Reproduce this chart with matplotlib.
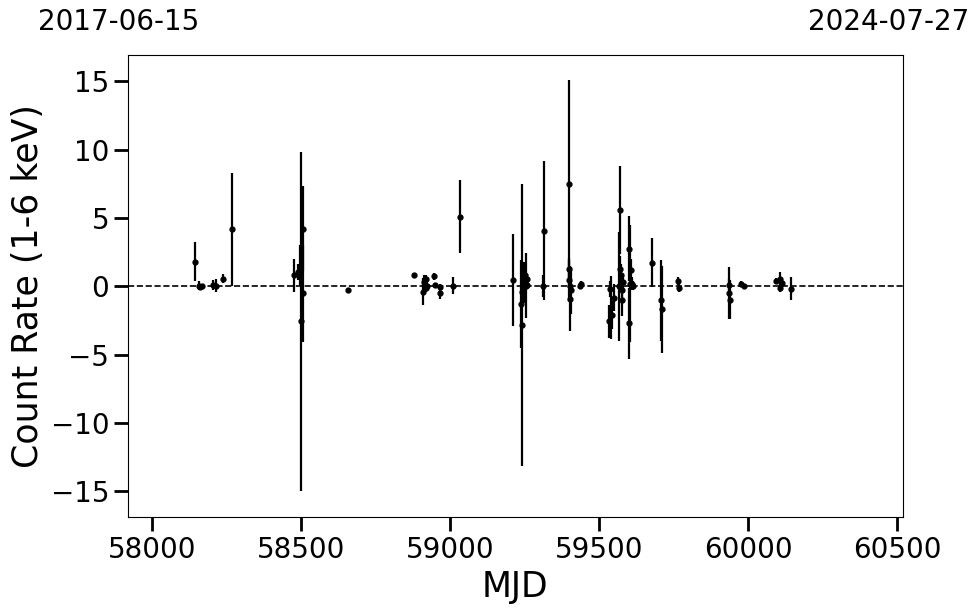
import numpy as np
import matplotlib
matplotlib.use('Agg')
import matplotlib.pyplot as plt

# MJD of each observation, count rate and 1-sigma error
mjd = [58144, 58158, 58162, 58167, 58205, 58215, 58239, 58268,
       58477, 58491, 58495, 58499, 58506, 58507,
       58657, 58878, 58909, 58912, 58915, 58918, 58920, 58922,
       58947, 58949, 58965, 58967, 59011, 59032,
       59212, 59239, 59240, 59242, 59246, 59250, 59252, 59254, 59256, 59258,
       59312, 59315, 59398, 59399, 59400, 59401, 59403, 59405, 59436, 59440,
       59533, 59536, 59541, 59544, 59549, 59566, 59568, 59570, 59573, 59575,
       59577, 59580, 59599, 59601, 59604, 59608, 59610, 59612,
       59678, 59707, 59712, 59765, 59767, 59934, 59936, 59938,
       59976, 59985, 60092, 60105, 60108, 60113, 60143]
rate = [1.8, 0.05, -0.05, 0.0, 0.1, 0.05, 0.56, 4.15,
        0.8, 1.05, 1.5, -2.56, -0.53, 4.2,
        -0.3, 0.8, -0.4, 0.3, 0.1, -0.1, 0.5, 0.0,
        0.73, 0.07, -0.05, -0.5, 0.05, 5.1,
        0.45, -1.3, -0.4, -2.85, 0.3, 0.8, 0.27, 0.05, 0.5, 0.1,
        0.0, 4.07, 1.24, 7.46, 0.45, -0.9, 0.0, -0.3, 0.02, 0.15,
        -2.56, -0.22, -1.55, -2.1, -0.83, 0.0, 1.24, 5.56, 0.8, -0.3,
        -1.0, 0.3, 2.76, -2.7, 0.2, 1.17, 0.2, 0.05,
        1.73, -1.02, -1.7, 0.37, -0.1, 0.1, -0.5, -0.98,
        0.2, 0.05, 0.37, 0.56, -0.12, 0.24, -0.17]
err = [1.4, 0.3, 0.2, 0.15, 0.35, 0.45, 0.33, 4.1,
       1.2, 0.6, 1.5, 12.4, 3.57, 3.1,
       0.2, 0.2, 1.0, 0.5, 0.4, 0.3, 0.3, 0.3,
       0.25, 0.2, 0.2, 0.4, 0.6, 2.65,
       3.35, 3.2, 0.8, 10.3, 1.5, 0.6, 0.5, 2.4, 0.4, 0.3,
       0.8, 5.1, 0.8, 7.6, 1.5, 2.4, 0.6, 1.7, 0.2, 0.2,
       1.2, 0.6, 2.3, 1.0, 1.0, 4.0, 1.0, 3.2, 0.8, 1.0,
       1.2, 0.5, 2.4, 2.6, 4.3, 0.8, 0.5, 0.3,
       1.8, 2.95, 3.2, 0.3, 0.3, 0.4, 1.9, 1.4,
       0.15, 0.15, 0.2, 0.5, 0.3, 0.3, 0.84]

start_label = '2017-06-15'
end_label = '2024-07-27'
mjd_range = (57919, 60518)

fig = plt.figure(figsize=(9.8, 6.13), dpi=100)
ax = fig.add_axes([0.1306, 0.1561, 0.7905, 0.7539])

ax.errorbar(mjd, rate, yerr=err, fmt='o', color='k', ms=3.5, elinewidth=1.6, capsize=0)
ax.axhline(0, color='k', ls='--', lw=1.2)

ax.set_xlim(mjd_range)
ax.set_ylim(-16.9, 16.9)
ax.set_xticks([58000, 58500, 59000, 59500, 60000, 60500])
ax.set_yticks([-15, -10, -5, 0, 5, 10, 15])
ax.tick_params(labelsize=20, length=10, width=2)
ax.set_xlabel('MJD', fontsize=25)
ax.set_ylabel('Count Rate (1-6 keV)', fontsize=25)

# calendar dates of the plotted range
ax.text(-0.012, 1.072, start_label, transform=ax.transAxes, ha='center', va='center', fontsize=20)
ax.text(0.982, 1.072, end_label, transform=ax.transAxes, ha='center', va='center', fontsize=20)

plt.savefig('out.png', dpi=100)
